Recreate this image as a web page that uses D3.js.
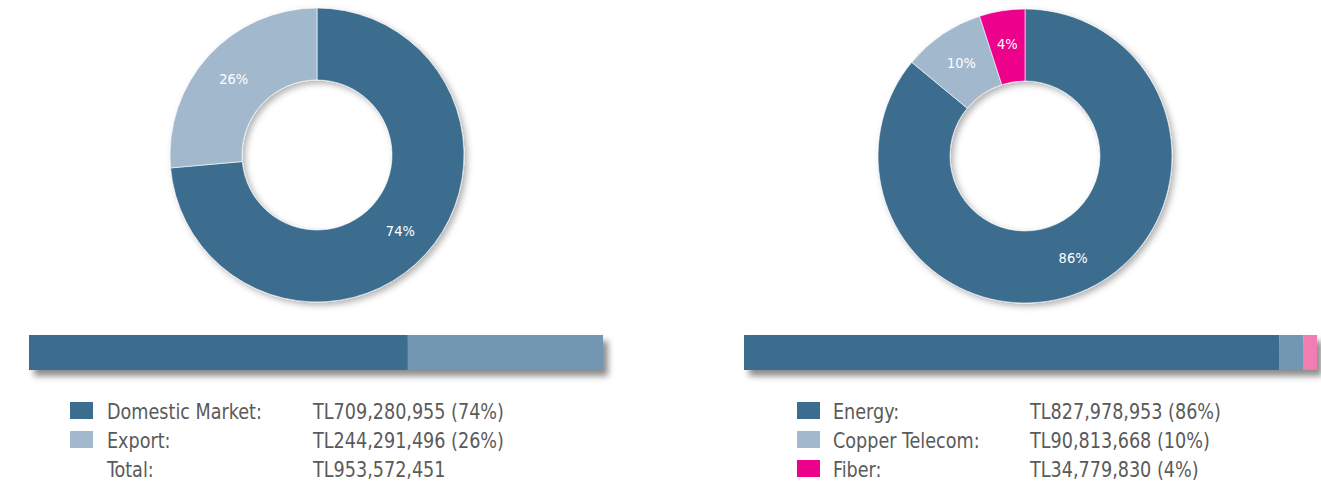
<!DOCTYPE html>
<html>
<head>
<meta charset="utf-8">
<script src="https://cdn.jsdelivr.net/npm/d3@7"></script>
<style>
  body { margin: 0; background: #fff; }
  svg { display: block; }
  text { font-stretch: condensed; }
</style>
</head>
<body>
<svg id="chart" width="1321" height="486"></svg>
<script>
// Sales by market
const salesCategories = ["Domestic Market", "Export"];
const salesValues = ["TL709,280,955 (74%)", "TL244,291,496 (26%)"];
const salesTotal = "TL953,572,451";
const salesPctLabels = ["74%", "26%"];
const salesDonutShares = [73.6, 26.4];
const salesBarShares = [66, 34];

// Sales by product
const productCategories = ["Energy", "Copper Telecom", "Fiber"];
const productValues = ["TL827,978,953 (86%)", "TL90,813,668 (10%)", "TL34,779,830 (4%)"];
const productPctLabels = ["86%", "10%", "4%"];
const productDonutShares = [86, 9, 5];
const productBarShares = [93.4, 4.2, 2.4];

const donutColors = ["#3d6d8e", "#a2b8cc", "#ec008c"];
const barColors = ["#3d6d8e", "#7297b3", "#f27db3"];
const textColor = "#5a5a5a";
const font = "'DejaVu Sans Condensed', 'DejaVu Sans', sans-serif";

const svg = d3.select("#chart");

// shadows
const defs = svg.append("defs");
defs.append("filter")
  .attr("id", "donutShadow")
  .attr("x", "-20%").attr("y", "-20%")
  .attr("width", "140%").attr("height", "140%")
  .append("feDropShadow")
  .attr("dx", 3).attr("dy", 3)
  .attr("stdDeviation", 3)
  .attr("flood-color", "#000")
  .attr("flood-opacity", 0.3);

defs.append("filter")
  .attr("id", "barShadow")
  .attr("x", "-5%").attr("y", "-50%")
  .attr("width", "110%").attr("height", "200%")
  .append("feDropShadow")
  .attr("dx", 5).attr("dy", 6)
  .attr("stdDeviation", 3)
  .attr("flood-color", "#000")
  .attr("flood-opacity", 0.45);

function drawDonut(cx, cy, shares, labels) {
  const pie = d3.pie().sort(null).value((d) => d);
  const arc = d3.arc().innerRadius(75).outerRadius(147);
  const labelArc = d3.arc().innerRadius(113).outerRadius(113);

  const g = svg.append("g").attr("transform", `translate(${cx},${cy})`);

  g.append("g")
    .attr("filter", "url(#donutShadow)")
    .selectAll("path")
    .data(pie(shares))
    .enter()
    .append("path")
    .attr("d", arc)
    .attr("fill", (d, i) => donutColors[i])
    .attr("stroke", "#fff")
    .attr("stroke-width", 0.6);

  g.selectAll(".pct")
    .data(pie(shares))
    .enter()
    .append("text")
    .attr("class", "pct")
    .attr("transform", (d) => `translate(${labelArc.centroid(d)})`)
    .attr("text-anchor", "middle")
    .attr("dy", "0.35em")
    .style("font-family", font)
    .style("font-size", "14.5px")
    .style("fill", "#fff")
    .text((d, i) => labels[i]);
}

function drawBar(x0, x1, shares) {
  const x = d3.scaleLinear().domain([0, d3.sum(shares)]).range([x0, x1]);
  const stacked = [];
  let acc = 0;
  shares.forEach((s) => {
    stacked.push({ start: acc, end: acc + s });
    acc += s;
  });

  const g = svg.append("g").attr("filter", "url(#barShadow)");
  g.selectAll("rect")
    .data(stacked)
    .enter()
    .append("rect")
    .attr("x", (d) => x(d.start))
    .attr("width", (d) => x(d.end) - x(d.start))
    .attr("y", 335)
    .attr("height", 35)
    .attr("fill", (d, i) => barColors[i]);
}

// legend font is narrower than DejaVu Condensed, squeeze it horizontally
function legendText(g, x, y, str) {
  g.append("text")
    .attr("transform", `translate(${x},${y}) scale(0.89,1)`)
    .style("font-family", font)
    .style("font-size", "22px")
    .style("fill", textColor)
    .text(str);
}

function drawLegend(sx, tx, vx, names, values, extraRow) {
  const rowY = (i) => 419 + i * 29;
  const g = svg.append("g");

  names.forEach((name, i) => {
    g.append("rect")
      .attr("x", sx)
      .attr("y", rowY(i) - 17)
      .attr("width", 23)
      .attr("height", 17)
      .attr("fill", donutColors[i]);
    legendText(g, tx, rowY(i), name + ":");
    legendText(g, vx, rowY(i), values[i]);
  });

  if (extraRow) {
    const i = names.length;
    legendText(g, tx, rowY(i), extraRow[0]);
    legendText(g, vx, rowY(i), extraRow[1]);
  }
}

drawDonut(317, 155, salesDonutShares, salesPctLabels);
drawDonut(1025, 156, productDonutShares, productPctLabels);

drawBar(29, 603, salesBarShares);
drawBar(744, 1317, productBarShares);

drawLegend(70, 107, 313, salesCategories, salesValues, ["Total:", salesTotal]);
drawLegend(797, 833, 1030, productCategories, productValues, null);
</script>
</body>
</html>
